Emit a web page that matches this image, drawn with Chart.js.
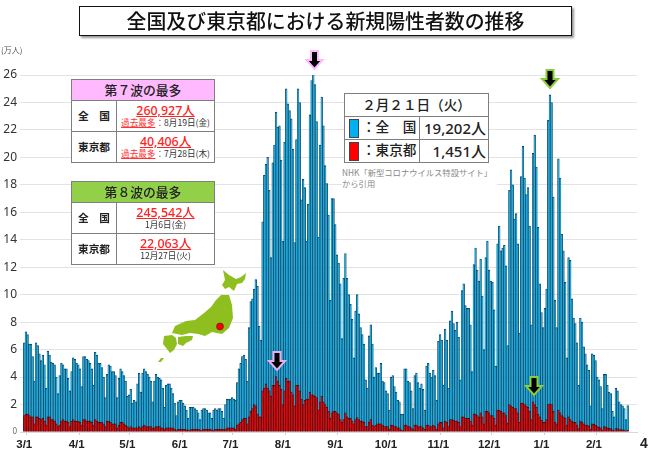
<!DOCTYPE html>
<html lang="ja">
<head>
<meta charset="utf-8">
<title>全国及び東京都における新規陽性者数の推移</title>
<script src="https://cdn.jsdelivr.net/npm/chart.js@4"></script>
<style>
  html, body { margin: 0; padding: 0; background: #fff; }
  body { width: 650px; height: 450px; position: relative; overflow: hidden; font-family: "Noto Sans CJK JP", sans-serif; color: #222; }
  canvas { position: absolute; left: 0; top: 0; }
  .abs { position: absolute; }
  #title { left: 79px; top: 6px; width: 491px; height: 28px; border: 1.5px solid #111; background: #fff; box-shadow: 2px 2px 2px #999;
    text-align: center; font-size: 19.9px; line-height: 28px; font-weight: 500; color: #111; }
  table { position: absolute; border-collapse: collapse; background: #fff; table-layout: fixed; }
  td { border: 1px solid #7f7f7f; padding: 0; text-align: center; line-height: 1; overflow: hidden; white-space: nowrap; }
  .head { font-size: 12.8px; font-weight: 500; }
  .area { font-size: 10.7px; font-weight: 700; }
  .num { font-size: 12.4px; font-weight: 500; color: #f22; text-decoration: underline; display: block; margin-bottom: 1px; font-family: "Noto Sans", "Noto Sans CJK JP", sans-serif; }
  .note { font-size: 8.6px; display: block; color: #333; }
  .note b { font-weight: 400; color: #f33; text-decoration: underline; }
  #legendBox td { font-weight: 500; font-size: 13.6px; }
  #legendBox td.val { font-size: 15px; text-align: right; padding-right: 2px; font-family: "Noto Sans", "Noto Sans CJK JP", sans-serif; }
  .swatch { display: inline-block; width: 8px; height: 17px; border: 1px solid #444; vertical-align: middle; margin: 0 3px 0 4px; }
  #credit { left: 342px; top: 165px; width: 155px; height: 25px; background: #fff; font-size: 8.3px; line-height: 10.5px; color: #888; padding-top: 2px; white-space: nowrap; }
</style>
</head>
<body>
<canvas id="chart" width="650" height="450"></canvas>

<div id="title" class="abs">全国及び東京都における新規陽性者数の推移</div>
<div class="abs" style="left:1px;top:44px;font-size:8px;color:#555;">(万人)</div>

<table style="left:71px;top:79px;width:143px;">
  <colgroup><col style="width:45px"><col style="width:98px"></colgroup>
  <tr style="height:21px"><td colspan="2" class="head" style="background:#ffb9ff">第７波の最多</td></tr>
  <tr style="height:31px"><td class="area">全　国</td><td><span class="num">260,927人</span><span class="note"><b>過去最多</b>：8月19日(金)</span></td></tr>
  <tr style="height:31px"><td class="area">東京都</td><td><span class="num">40,406人</span><span class="note"><b>過去最多</b>：7月28日(木)</span></td></tr>
</table>

<table style="left:71px;top:181px;width:143px;">
  <colgroup><col style="width:45px"><col style="width:98px"></colgroup>
  <tr style="height:21px"><td colspan="2" class="head" style="background:#92d04a">第８波の最多</td></tr>
  <tr style="height:31px"><td class="area">全　国</td><td><span class="num">245,542人</span><span class="note">1月6日(金)</span></td></tr>
  <tr style="height:31px"><td class="area">東京都</td><td><span class="num">22,063人</span><span class="note">12月27日(火)</span></td></tr>
</table>

<table id="legendBox" style="left:344px;top:93px;width:144px;">
  <colgroup><col style="width:75px"><col style="width:69px"></colgroup>
  <tr style="height:23px"><td colspan="2">２月２１日（火）</td></tr>
  <tr style="height:23px"><td style="text-align:left"><span class="swatch" style="background:#00b0f0"></span>：全　国</td><td class="val">19,202人</td></tr>
  <tr style="height:23px"><td style="text-align:left"><span class="swatch" style="background:#ff0000"></span>：東京都</td><td class="val">1,451人</td></tr>
</table>

<div id="credit" class="abs">NHK「新型コロナウイルス特設サイト」<br>から引用</div>

<svg class="abs" style="left:0;top:0" width="650" height="450" viewBox="0 0 650 450">
  <defs>
    <path id="arrow" d="M-3.5 0 H3.5 V9 H8 L0 18 L-8 9 H-3.5 Z"/>
  </defs>
  <!-- peak arrows -->
  <use href="#arrow" transform="translate(314.5,51)" fill="#000" stroke="#ffb9ff" stroke-width="2"/>
  <use href="#arrow" transform="translate(277,352)" fill="#000" stroke="#e6aef0" stroke-width="2"/>
  <use href="#arrow" transform="translate(550,70)" fill="#000" stroke="#8ccb3c" stroke-width="2"/>
  <use href="#arrow" transform="translate(534,377)" fill="#000" stroke="#8ccb3c" stroke-width="2"/>
  <!-- japan -->
  <g fill="#8fbf1f">
    <path d="M223 270 L229 275 L236 279 L241 277 L246 273 L245 279 L242 283 L237 284 L234 291 L229 287 L225 289 L222 285 L225 280 Z"/>
    <path d="M221 295 L229 295 L232 305 L233 318 L229 328 L222 334 L212 332 L205 336 L198 334 L190 333 L182 335 L172 333 L175 326 L186 321 L195 320 L204 313 L211 307 L216 300 Z"/>
    <path d="M178 337 L186 336 L193 336 L192 340 L186 343 L183 346 L178 344 Z"/>
    <path d="M164 336 L172 335 L176 338 L177 344 L174 350 L170 353 L167 349 L163 344 Z"/>
    <path d="M158 362 L161 358 L164 358 L161 362 Z"/>
  </g>
  <circle cx="220" cy="326.5" r="3.4" fill="#f00" stroke="#7a1010" stroke-width="0.8"/>
</svg>

<div class="abs" style="left:640px;top:435px;font-size:14px;font-weight:700;color:#222;font-family:'Liberation Sans',sans-serif;">4</div>

<script>
const monthLabels = ['3/1', '4/1', '5/1', '6/1', '7/1', '8/1', '9/1', '10/1', '11/1', '12/1', '1/1', '2/1'];

// 全国, 万人, day by day
const nationMar = [6.5, 7.3, 7.1, 6.4, 6.4, 5.5, 3.7, 6.5, 6.3, 5.7, 5.2, 5.6, 4.9, 3.2, 5.9, 5.6, 5.1, 5.0, 4.9, 4.0, 2.8, 4.1, 5.0, 4.9, 4.6, 4.6, 3.9, 3.0, 4.4, 5.4, 5.3];
const nationApr = [5.0, 4.9, 4.6, 3.3, 5.5, 5.5, 5.3, 5.2, 5.0, 4.6, 3.4, 5.8, 5.6, 5.0, 5.0, 4.7, 4.0, 2.5, 4.2, 4.9, 4.8, 4.4, 4.4, 4.1, 2.5, 3.9, 4.6, 4.4, 4.1, 3.7];
const nationMay = [2.6, 2.7, 3.1, 2.1, 2.3, 2.2, 3.5, 4.3, 2.9, 4.3, 4.6, 4.4, 4.2, 4.0, 3.7, 2.2, 3.7, 4.2, 4.0, 3.9, 3.8, 3.2, 1.8, 3.4, 3.5, 3.5, 3.2, 2.8, 2.1, 1.2, 2.2];
const nationJun = [2.3, 2.3, 2.1, 1.9, 1.6, 1.0, 1.8, 1.8, 1.8, 1.7, 1.6, 1.4, 0.9, 1.6, 1.7, 1.7, 1.6, 1.4, 1.4, 1.0, 1.6, 1.7, 1.6, 1.7, 1.7, 1.5, 1.0, 2.0, 2.4, 2.4];
const nationJul = [2.4, 2.5, 2.4, 2.3, 3.6, 4.6, 5.0, 5.5, 5.6, 5.3, 3.7, 7.6, 9.5, 9.7, 10.4, 11.1, 10.6, 7.7, 6.7, 15.3, 18.7, 19.5, 20.0, 17.6, 12.7, 19.6, 20.9, 23.3, 22.2, 22.3, 19.8];
const nationAug = [13.9, 21.1, 25.0, 23.9, 23.4, 22.8, 20.6, 13.8, 21.3, 25.0, 24.0, 16.9, 18.4, 17.8, 13.9, 16.6, 23.1, 25.6, 26.09, 25.3, 22.6, 14.2, 20.9, 24.4, 22.3, 19.4, 18.1, 15.8, 9.6, 17.0, 17.0];
const nationSep = [15.1, 12.9, 12.3, 10.8, 6.8, 11.2, 13.0, 11.2, 10.0, 9.3, 8.2, 5.4, 8.8, 10.0, 8.6, 7.6, 7.1, 6.4, 3.8, 3.2, 7.0, 7.8, 6.4, 4.0, 4.7, 4.3, 4.3, 5.0, 3.7, 3.6];
const nationOct = [3.0, 2.8, 1.6, 4.0, 4.1, 3.3, 2.9, 2.3, 2.2, 1.3, 1.3, 4.6, 4.6, 3.7, 3.6, 3.0, 1.7, 4.1, 4.3, 3.6, 3.2, 3.5, 3.1, 1.6, 4.8, 5.0, 4.3, 4.0, 4.5, 4.1, 2.3];
const nationNov = [6.6, 7.1, 6.7, 3.4, 7.5, 6.7, 3.2, 8.1, 8.8, 7.9, 7.4, 8.0, 6.9, 3.8, 10.3, 10.8, 9.2, 9.0, 9.0, 7.8, 4.4, 12.2, 13.4, 11.8, 11.0, 12.6, 9.9, 6.0, 12.7, 13.9];
const nationDec = [11.8, 11.0, 10.9, 8.9, 4.8, 13.7, 15.0, 13.2, 13.4, 13.6, 12.1, 6.3, 17.6, 19.1, 18.0, 15.5, 15.9, 13.7, 7.2, 18.6, 20.8, 18.5, 17.3, 17.8, 15.0, 7.8, 20.3, 21.6, 19.3, 14.9, 10.8];
const nationJan = [8.7, 7.6, 9.0, 10.4, 22.7, 24.55, 24.0, 17.1, 9.6, 7.6, 19.9, 18.5, 14.4, 13.2, 10.9, 5.4, 12.7, 12.5, 9.7, 8.3, 7.9, 6.5, 3.4, 8.3, 8.0, 6.2, 5.7, 4.9, 4.5, 1.9, 5.7];
const nationFeb = [5.6, 5.2, 4.0, 3.8, 3.3, 1.7, 4.2, 4.2, 3.4, 2.9, 2.8, 1.5, 1.1, 3.2, 3.0, 2.2, 2.0, 1.9, 1.7, 0.9, 1.92];

// 東京都, 万人
const tokyoMar = [1.2, 1.3, 1.3, 1.2, 1.1, 1.1, 0.6, 1.1, 1.1, 1.0, 0.9, 1.0, 0.8, 0.5, 1.1, 1.1, 0.9, 0.9, 0.8, 0.6, 0.4, 0.5, 0.8, 0.9, 0.8, 0.8, 0.7, 0.4, 0.8, 0.9, 0.8];
const tokyoApr = [0.8, 0.8, 0.7, 0.5, 0.9, 0.9, 0.8, 0.8, 0.8, 0.7, 0.5, 0.9, 0.8, 0.7, 0.7, 0.7, 0.6, 0.4, 0.8, 0.8, 0.7, 0.6, 0.6, 0.6, 0.3, 0.5, 0.7, 0.7, 0.6, 0.5];
const tokyoMay = [0.4, 0.3, 0.4, 0.3, 0.3, 0.3, 0.3, 0.4, 0.3, 0.4, 0.5, 0.4, 0.4, 0.4, 0.4, 0.3, 0.3, 0.4, 0.4, 0.4, 0.3, 0.3, 0.2, 0.3, 0.3, 0.3, 0.3, 0.3, 0.2, 0.1, 0.2];
const tokyoJun = [0.2, 0.2, 0.2, 0.2, 0.15, 0.15, 0.1, 0.2, 0.2, 0.2, 0.2, 0.2, 0.15, 0.1, 0.2, 0.2, 0.2, 0.2, 0.2, 0.15, 0.1, 0.2, 0.2, 0.2, 0.2, 0.2, 0.2, 0.2, 0.3, 0.3];
const tokyoJul = [0.3, 0.3, 0.3, 0.2, 0.5, 0.6, 0.7, 0.9, 1.0, 1.0, 0.6, 1.1, 1.5, 1.7, 2.0, 1.9, 1.3, 1.1, 1.1, 3.0, 3.2, 3.5, 3.2, 3.0, 2.6, 3.4, 3.4, 4.04, 3.7, 3.4, 3.1];
const tokyoAug = [2.0, 3.0, 3.9, 3.7, 3.7, 2.9, 2.7, 1.9, 3.4, 3.4, 3.0, 2.4, 2.0, 2.3, 2.4, 2.4, 2.9, 2.7, 2.7, 2.6, 2.5, 1.6, 2.2, 2.6, 2.2, 2.0, 1.8, 1.5, 1.0, 1.4, 1.5];
const tokyoSep = [1.5, 1.4, 1.3, 0.9, 0.7, 0.9, 1.4, 1.1, 1.0, 1.0, 0.8, 0.6, 0.9, 1.05, 0.9, 0.8, 0.8, 0.7, 0.4, 0.4, 0.7, 0.9, 0.5, 0.4, 0.5, 0.6, 0.6, 0.6, 0.5, 0.4];
const tokyoOct = [0.4, 0.4, 0.2, 0.5, 0.5, 0.4, 0.4, 0.3, 0.3, 0.15, 0.1, 0.5, 0.5, 0.4, 0.4, 0.3, 0.2, 0.5, 0.5, 0.4, 0.4, 0.4, 0.3, 0.2, 0.5, 0.5, 0.4, 0.4, 0.5, 0.4, 0.2];
const tokyoNov = [0.6, 0.7, 0.7, 0.3, 0.8, 0.7, 0.4, 0.9, 0.9, 0.85, 0.8, 0.8, 0.7, 0.4, 1.1, 1.1, 1.0, 1.0, 1.0, 0.8, 0.5, 1.3, 1.3, 1.2, 1.1, 1.4, 1.1, 0.6, 1.5, 1.5];
const tokyoDec = [1.4, 1.2, 1.2, 1.0, 0.5, 1.6, 1.6, 1.5, 1.4, 1.4, 1.2, 0.65, 2.0, 1.9, 1.8, 1.7, 1.7, 1.4, 0.7, 2.1, 2.1, 2.0, 1.9, 1.8, 1.5, 0.9, 2.2, 2.0, 1.8, 1.3, 1.1];
const tokyoJan = [0.85, 0.7, 0.7, 0.9, 2.0, 2.05, 2.0, 1.5, 0.7, 0.6, 1.6, 1.4, 1.2, 1.1, 1.0, 0.5, 1.1, 0.9, 0.8, 0.7, 0.7, 0.5, 0.25, 0.8, 0.7, 0.6, 0.5, 0.5, 0.45, 0.2, 0.6];
const tokyoFeb = [0.55, 0.5, 0.4, 0.35, 0.3, 0.12, 0.4, 0.38, 0.3, 0.27, 0.25, 0.15, 0.08, 0.25, 0.24, 0.18, 0.17, 0.16, 0.15, 0.07, 0.145];

const nationByMonth = [nationMar, nationApr, nationMay, nationJun, nationJul, nationAug, nationSep, nationOct, nationNov, nationDec, nationJan, nationFeb];
const tokyoByMonth = [tokyoMar, tokyoApr, tokyoMay, tokyoJun, tokyoJul, tokyoAug, tokyoSep, tokyoOct, tokyoNov, tokyoDec, tokyoJan, tokyoFeb];

// blank slots either side so the gridlines run past the bars
const leadSlots = 2;
const tailSlots = 5;
const pad = (list) => [...Array(leadSlots).fill(null), ...list, ...Array(tailSlots).fill(null)];

const dayLabels = pad(nationByMonth.flatMap((days, m) => days.map((_, d) => (d === 0 ? monthLabels[m] : ''))));
const nation = pad(nationByMonth.flat());
const tokyo = pad(tokyoByMonth.flat());

new Chart(document.getElementById('chart'), {
  type: 'bar',
  data: {
    labels: dayLabels,
    datasets: [
      { label: '東京都', data: tokyo, backgroundColor: '#ff0000', borderColor: '#4a0808', borderWidth: 0.7, order: 1 },
      { label: '全国', data: nation, backgroundColor: '#00b0f0', borderColor: '#0a3f5a', borderWidth: 0.75, order: 2 }
    ]
  },
  options: {
    responsive: false,
    animation: false,
    devicePixelRatio: 1,
    layout: { padding: { top: 75, right: 13, left: 0, bottom: 0 } },
    datasets: { bar: { grouped: false, barPercentage: 1, categoryPercentage: 1 } },
    plugins: { legend: { display: false }, tooltip: { enabled: false } },
    scales: {
      x: {
        afterFit: (s) => { s.height = 18; },
        grid: {
          drawOnChartArea: false,
          tickLength: 3,
          color: (c) => (dayLabels[c.index] ? '#cfcfcf' : 'transparent')
        },
        border: { color: '#d9d9d9' },
        ticks: {
          autoSkip: false,
          maxRotation: 0,
          minRotation: 0,
          padding: 3,
          color: '#222',
          font: { family: '"Liberation Sans", sans-serif', size: 11.5, weight: 'bold' },
          callback: (v, i) => dayLabels[i]
        }
      },
      y: {
        min: 0,
        max: 26,
        afterFit: (s) => { s.width = 20; },
        grid: { color: '#e3e3e3', lineWidth: 1, drawTicks: false },
        border: { display: false },
        ticks: {
          stepSize: 2,
          padding: 3,
          color: (c) => (c.tick.value === 0 ? '#666' : '#333'),
          font: (c) => ({ family: '"Noto Sans", sans-serif', size: c.tick && c.tick.value === 0 ? 8 : 12 })
        }
      }
    }
  }
});
</script>
</body>
</html>
